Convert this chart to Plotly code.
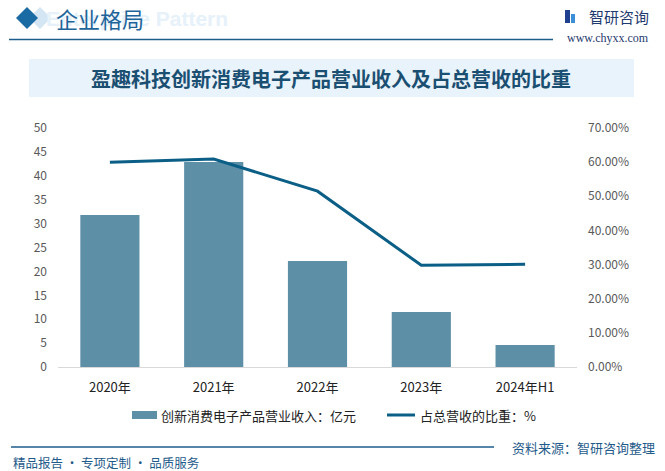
import plotly.graph_objects as go

categories = ["2020年", "2021年", "2022年", "2023年", "2024年H1"]
revenue = [31.8, 42.9, 22.2, 11.5, 4.6]          # 亿元
share = [0.600, 0.609, 0.515, 0.298, 0.301]      # 占总营收的比重

W, H = 665, 471
BAR_COLOR = "#5d8fa7"
LINE_COLOR = "#0b5f86"
FONT = "Noto Sans CJK SC"

def px(x):
    return x / W

def py(y):
    return 1 - y / H

fig = go.Figure()
fig.add_trace(go.Bar(x=categories, y=revenue, name="创新消费电子产品营业收入：亿元",
                     marker=dict(color=BAR_COLOR, line=dict(width=0)), yaxis="y"))
fig.add_trace(go.Scatter(x=categories, y=share, name="占总营收的比重：%", mode="lines",
                         line=dict(color=LINE_COLOR, width=3), yaxis="y2"))

shapes = []
annotations = []

# title box
shapes.append(dict(type="rect", xref="paper", yref="paper", x0=px(29), x1=px(634), y0=py(97), y1=py(59),
                   fillcolor="#e8f3fb", line=dict(width=0), layer="below"))
# header diamonds
shapes.append(dict(type="path", xref="paper", yref="paper",
                   path=f"M {px(40)},{py(7)} L {px(51)},{py(18)} L {px(40)},{py(29)} L {px(29)},{py(18)} Z",
                   fillcolor="#d4e6f4", line=dict(width=0)))
shapes.append(dict(type="path", xref="paper", yref="paper",
                   path=f"M {px(27)},{py(7)} L {px(38)},{py(18)} L {px(27)},{py(29)} L {px(16)},{py(18)} Z",
                   fillcolor="#1a6aa3", line=dict(width=0)))
# header line
shapes.append(dict(type="line", xref="paper", yref="paper", x0=px(9), x1=px(553), y0=py(39.5), y1=py(39.5),
                   line=dict(color="#1c5d8c", width=1.5)))
# logo icon
shapes.append(dict(type="rect", xref="paper", yref="paper", x0=px(565), x1=px(570), y0=py(23), y1=py(10),
                   fillcolor="#1f3f8f", line=dict(width=0)))
shapes.append(dict(type="rect", xref="paper", yref="paper", x0=px(571), x1=px(575), y0=py(23), y1=py(14),
                   fillcolor="#3c8fd6", line=dict(width=0)))
# footer line
shapes.append(dict(type="line", xref="paper", yref="paper", x0=px(11), x1=px(494), y0=py(447), y1=py(447),
                   line=dict(color="#1c5d8c", width=1.5)))
# legend symbols
shapes.append(dict(type="rect", xref="paper", yref="paper", x0=px(132), x1=px(157), y0=py(419), y1=py(411),
                   fillcolor=BAR_COLOR, line=dict(width=0)))
shapes.append(dict(type="line", xref="paper", yref="paper", x0=px(387), x1=px(415), y0=py(415), y1=py(415),
                   line=dict(color=LINE_COLOR, width=3)))

annotations += [
    dict(text="<b>Enterprise Pattern</b>", x=px(230), y=py(19), xanchor="right", yanchor="middle",
         font=dict(family="Arial, Liberation Sans", size=21, color="#e6f1fa")),
    dict(text="企业格局", x=px(54), y=py(18), xanchor="left", yanchor="middle",
         font=dict(family=FONT, size=22, color="#1d6499")),
    dict(text="智研咨询", x=px(587), y=py(17), xanchor="left", yanchor="middle",
         font=dict(family=FONT, size=15, color="#1f3a6e")),
    dict(text="www.chyxx.com", x=px(565), y=py(38), xanchor="left", yanchor="middle",
         font=dict(family="Liberation Serif", size=12, color="#1f3a6e")),
    dict(text="<b>盈趣科技创新消费电子产品营业收入及占总营收的比重</b>", x=px(331), y=py(79),
         xanchor="center", yanchor="middle",
         font=dict(family=FONT, size=20, color="#1b4f72")),
    dict(text="创新消费电子产品营业收入：亿元", x=px(159), y=py(415), xanchor="left", yanchor="middle",
         font=dict(family=FONT, size=13, color="#222222")),
    dict(text="占总营收的比重：%", x=px(418), y=py(415), xanchor="left", yanchor="middle",
         font=dict(family=FONT, size=13, color="#222222")),
    dict(text="资料来源：智研咨询整理", x=px(657), y=py(447), xanchor="right", yanchor="middle",
         font=dict(family=FONT, size=13, color="#1f5b8a")),
    dict(text="精品报告 · 专项定制 · 品质服务", x=px(11), y=py(462), xanchor="left", yanchor="middle",
         font=dict(family=FONT, size=12.5, color="#1f5b8a")),
]
for a in annotations:
    a.update(xref="paper", yref="paper", showarrow=False)

fig.update_layout(
    width=W, height=H,
    margin=dict(l=0, r=0, t=0, b=0, pad=0),
    paper_bgcolor="white", plot_bgcolor="white",
    showlegend=False,
    bargap=0.43,
    font=dict(family=FONT, color="#595959"),
    shapes=shapes, annotations=annotations,
    xaxis=dict(domain=[px(58), px(577)], automargin=False, showgrid=False, showline=True,
               linecolor="#d9d9d9", linewidth=1,
               ticks="", tickfont=dict(size=13, color="#222222"), ticklabelstandoff=8, fixedrange=True),
    yaxis=dict(domain=[py(367), py(128)], automargin=False, range=[0, 50], dtick=5, showgrid=False,
               zeroline=False, showline=False, ticks="", tickfont=dict(size=12, color="#595959"),
               ticklabelstandoff=10),
    yaxis2=dict(overlaying="y", side="right", automargin=False, range=[0, 0.7], dtick=0.1, tickformat=".2%",
                showgrid=False, zeroline=False, showline=False, ticks="",
                tickfont=dict(size=12, color="#595959"), ticklabelstandoff=10),
)

fig.write_html("out.html", config={"displayModeBar": False},
               post_script="document.body.style.margin='0';document.body.style.overflow='hidden';")
